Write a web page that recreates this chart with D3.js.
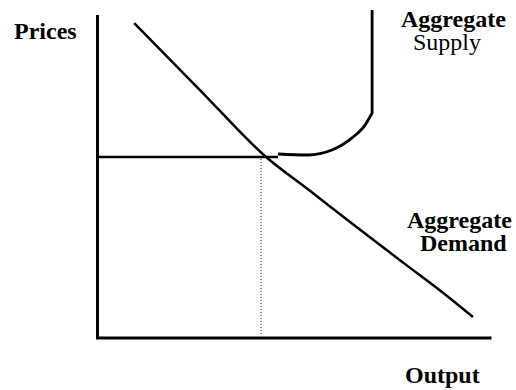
<!DOCTYPE html>
<html>
<head>
<meta charset="utf-8">
<script src="https://cdn.jsdelivr.net/npm/d3@7"></script>
<style>
  body { margin: 0; background: #fff; }
</style>
</head>
<body>
<svg id="drawing_region"></svg>
<script>
// aggregate demand curve (output, price) in chart units 0..100
const demand_output = [9.3, 26.0, 42.5, 54.0, 66.0, 78.0, 88.0, 95.3];
const demand_price  = [96.0, 75.6, 55.5, 44.8, 33.6, 22.6, 13.5, 6.4];

// aggregate supply: flat, then bending up, then vertical at full capacity
const supply_output = [45.8, 53.4, 59.5, 64.6, 67.9, 69.7, 69.7];
const supply_price  = [56.1, 55.8, 57.3, 61.0, 64.9, 68.6, 100];

// equilibrium
const eq_output = 41.5;
const eq_price = 55.2;
const flat_end = 45.8;

const axis_labels = { y: "Prices", x: "Output" };
const supply_label = ["Aggregate", "Supply"];
const demand_label = ["Aggregate", "Demand"];

var config = {
    width: 516,
    height: 390,
    font: 'Liberation Serif, Times New Roman, DejaVu Serif, serif',
};

const svg = d3.select('#drawing_region')
    .attr('width', config.width)
    .attr('height', config.height);

const xscale = d3.scaleLinear().domain([0, 100]).range([97.5, 491.5]);
const yscale = d3.scaleLinear().domain([0, 100]).range([338, 10]);

const line = d3.line()
    .x(d => xscale(d[0]))
    .y(d => yscale(d[1]));

// axes (plain lines, no ticks)
svg.append('path')
    .attr('d', line([[0, 98.5], [0, 0], [100, 0]]))
    .attr('stroke', '#000')
    .attr('stroke-width', 3)
    .attr('fill', 'none');

// dotted drop line to output axis
svg.append('path')
    .attr('d', line([[eq_output, eq_price - 0.6], [eq_output, 0.6]]))
    .attr('stroke', '#000')
    .attr('stroke-width', 1)
    .attr('stroke-dasharray', '1,2')
    .attr('fill', 'none');

// price level line
svg.append('path')
    .attr('d', line([[0, eq_price], [flat_end, eq_price]]))
    .attr('stroke', '#000')
    .attr('stroke-width', 2.5)
    .attr('fill', 'none');

// aggregate supply: smooth bend, then straight vertical part
const supply = supply_output.map((x, i) => [x, supply_price[i]]);
const bend = supply.slice(0, -1);
const bend_path = d3.line()
    .x(d => xscale(d[0]))
    .y(d => yscale(d[1]))
    .curve(d3.curveMonotoneX)(bend);
const as_top = supply[supply.length - 1];
svg.append('path')
    .attr('d', bend_path + `L${xscale(as_top[0])},${yscale(as_top[1])}`)
    .attr('stroke', '#000')
    .attr('stroke-width', 2.8)
    .attr('fill', 'none');

// aggregate demand
const demand = demand_output.map((x, i) => [x, demand_price[i]]);
svg.append('path')
    .attr('d', d3.line()
        .x(d => xscale(d[0]))
        .y(d => yscale(d[1]))
        .curve(d3.curveMonotoneX)(demand))
    .attr('stroke', '#000')
    .attr('stroke-width', 2.5)
    .attr('fill', 'none');

// labels
function label(x, y, txt, bold) {
    const t = svg.append('text')
        .attr('x', x)
        .attr('y', y)
        .style('font-family', config.font)
        .style('font-size', '24px')
        .style('font-weight', bold ? 'bold' : 'normal')
        .attr('fill', '#000')
        .text(txt);
    // force layout so the serif face is picked up before the snapshot
    t.node().getComputedTextLength();
    return t;
}
label(14, 39, axis_labels.y, true);
label(405, 383, axis_labels.x, true);
label(401, 27, supply_label[0], true);
label(413, 50, supply_label[1], false);
label(407, 228, demand_label[0], true);
label(420, 251, demand_label[1], true);
</script>
</body>
</html>
